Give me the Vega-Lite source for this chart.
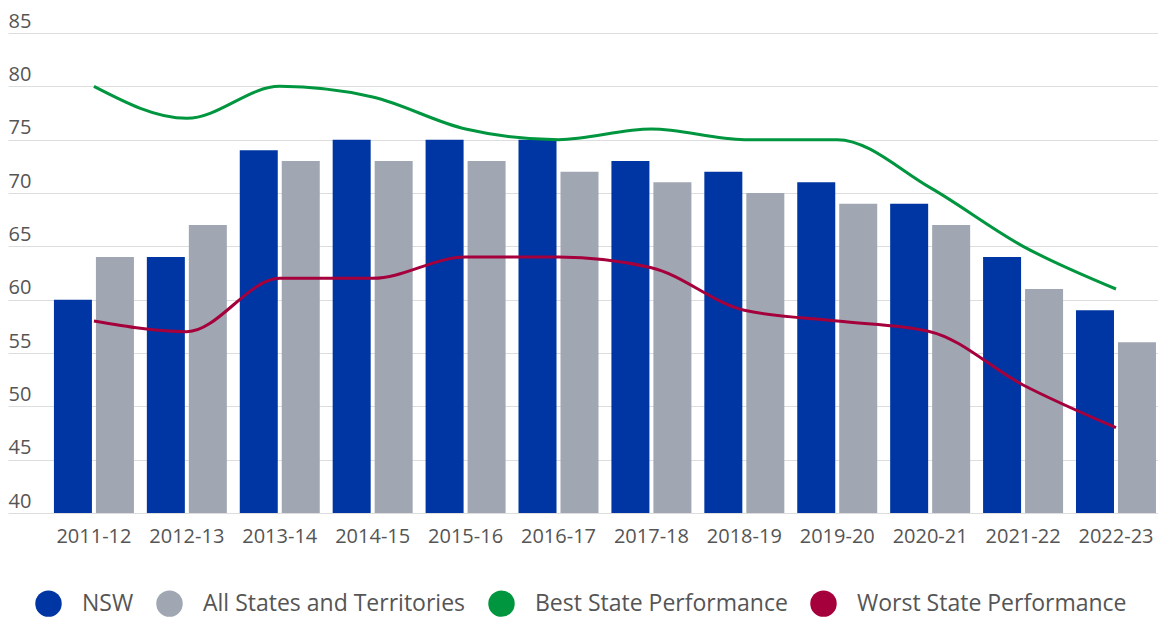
{
  "$schema": "https://vega.github.io/schema/vega-lite/v6.json",
  "width": 1150,
  "height": 480,
  "autosize": {"type": "none"},
  "padding": {"left": 8, "top": 33, "right": 0, "bottom": 107},
  "background": "white",
  "config": {
    "font": "Open Sans",
    "view": {"stroke": null}
  },
  "datasets": {
    "bars": [
      {"year": "2011-12", "series": "NSW", "value": 60},
      {"year": "2012-13", "series": "NSW", "value": 64},
      {"year": "2013-14", "series": "NSW", "value": 74},
      {"year": "2014-15", "series": "NSW", "value": 75},
      {"year": "2015-16", "series": "NSW", "value": 75},
      {"year": "2016-17", "series": "NSW", "value": 75},
      {"year": "2017-18", "series": "NSW", "value": 73},
      {"year": "2018-19", "series": "NSW", "value": 72},
      {"year": "2019-20", "series": "NSW", "value": 71},
      {"year": "2020-21", "series": "NSW", "value": 69},
      {"year": "2021-22", "series": "NSW", "value": 64},
      {"year": "2022-23", "series": "NSW", "value": 59},
      {"year": "2011-12", "series": "All States and Territories", "value": 64},
      {"year": "2012-13", "series": "All States and Territories", "value": 67},
      {"year": "2013-14", "series": "All States and Territories", "value": 73},
      {"year": "2014-15", "series": "All States and Territories", "value": 73},
      {"year": "2015-16", "series": "All States and Territories", "value": 73},
      {"year": "2016-17", "series": "All States and Territories", "value": 72},
      {"year": "2017-18", "series": "All States and Territories", "value": 71},
      {"year": "2018-19", "series": "All States and Territories", "value": 70},
      {"year": "2019-20", "series": "All States and Territories", "value": 69},
      {"year": "2020-21", "series": "All States and Territories", "value": 67},
      {"year": "2021-22", "series": "All States and Territories", "value": 61},
      {"year": "2022-23", "series": "All States and Territories", "value": 56}
    ],
    "lines": [
      {"year": "2011-12", "series": "Best State Performance", "value": 80},
      {"year": "2012-13", "series": "Best State Performance", "value": 77},
      {"year": "2013-14", "series": "Best State Performance", "value": 80},
      {"year": "2014-15", "series": "Best State Performance", "value": 79},
      {"year": "2015-16", "series": "Best State Performance", "value": 76},
      {"year": "2016-17", "series": "Best State Performance", "value": 75},
      {"year": "2017-18", "series": "Best State Performance", "value": 76},
      {"year": "2018-19", "series": "Best State Performance", "value": 75},
      {"year": "2019-20", "series": "Best State Performance", "value": 75},
      {"year": "2020-21", "series": "Best State Performance", "value": 70.5},
      {"year": "2021-22", "series": "Best State Performance", "value": 65},
      {"year": "2022-23", "series": "Best State Performance", "value": 61},
      {"year": "2011-12", "series": "Worst State Performance", "value": 58},
      {"year": "2012-13", "series": "Worst State Performance", "value": 57},
      {"year": "2013-14", "series": "Worst State Performance", "value": 62},
      {"year": "2014-15", "series": "Worst State Performance", "value": 62},
      {"year": "2015-16", "series": "Worst State Performance", "value": 64},
      {"year": "2016-17", "series": "Worst State Performance", "value": 64},
      {"year": "2017-18", "series": "Worst State Performance", "value": 63},
      {"year": "2018-19", "series": "Worst State Performance", "value": 59},
      {"year": "2019-20", "series": "Worst State Performance", "value": 58},
      {"year": "2020-21", "series": "Worst State Performance", "value": 57},
      {"year": "2021-22", "series": "Worst State Performance", "value": 52},
      {"year": "2022-23", "series": "Worst State Performance", "value": 48}
    ]
  },
  "encoding": {
    "x": {
      "field": "year",
      "type": "nominal",
      "sort": null,
      "scale": {"paddingInner": 0.139, "paddingOuter": 0.258, "align": 0.958},
      "axis": {
        "title": null,
        "labelAngle": 0,
        "ticks": false,
        "domain": false,
        "grid": false,
        "labelPadding": 13,
        "labelFontSize": 20,
        "labelColor": "#555555"
      }
    },
    "y": {
      "field": "value",
      "type": "quantitative",
      "scale": {"domain": [40, 85], "nice": false, "zero": false},
      "axis": {
        "title": null,
        "values": [40, 45, 50, 55, 60, 65, 70, 75, 80, 85],
        "ticks": false,
        "tickSize": 0,
        "domain": false,
        "grid": true,
        "gridColor": "#dddddd",
        "gridWidth": 1.2,
        "labelAlign": "left",
        "labelBaseline": "alphabetic",
        "labelPadding": 0,
        "labelOffset": -6,
        "labelFontSize": 20,
        "labelColor": "#555555"
      }
    },
    "color": {
      "field": "series",
      "type": "nominal",
      "scale": {
        "domain": ["NSW", "All States and Territories", "Best State Performance", "Worst State Performance"],
        "range": ["#0036A3", "#A0A7B2", "#00963F", "#A5003C"]
      },
      "legend": {
        "title": null,
        "orient": "none",
        "legendX": 27,
        "legendY": 557,
        "direction": "horizontal",
        "symbolType": "circle",
        "symbolSize": 700,
        "symbolStrokeWidth": 0,
        "symbolOpacity": 1,
        "labelFontSize": 23,
        "labelLimit": 0,
        "labelColor": "#555555",
        "labelOffset": 20,
        "columnPadding": 22,
        "padding": 0
      }
    }
  },
  "layer": [
    {
      "data": {"name": "bars"},
      "mark": {"type": "bar"},
      "encoding": {
        "xOffset": {
          "field": "series",
          "type": "nominal",
          "sort": ["NSW", "All States and Territories"],
          "scale": {"paddingInner": 0.095}
        },
        "y2": {"datum": 40}
      }
    },
    {
      "data": {"name": "lines"},
      "mark": {"type": "line", "interpolate": "monotone", "strokeWidth": 3},
      "encoding": {}
    }
  ]
}
